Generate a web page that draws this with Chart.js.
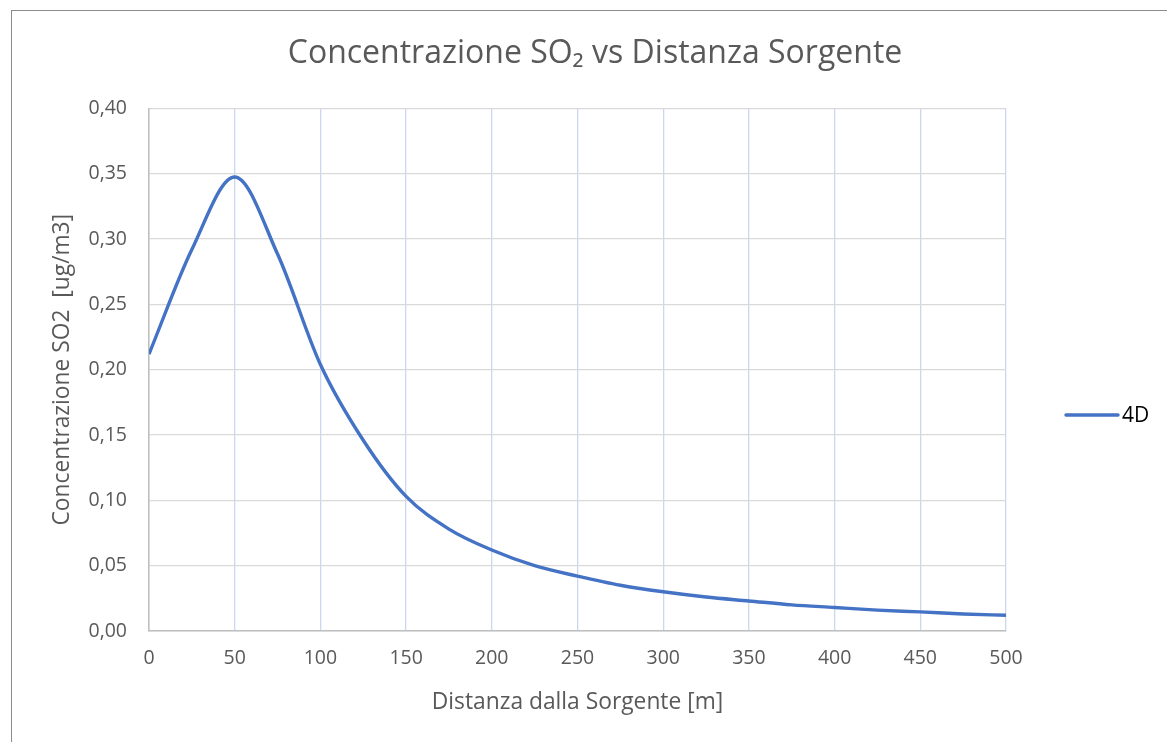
<!DOCTYPE html>
<html>
<head>
<meta charset="utf-8">
<script src="https://cdn.jsdelivr.net/npm/chart.js@4.4.1/dist/chart.umd.min.js"></script>
<style>
  html, body { margin: 0; padding: 0; background: #fff; }
  #wrap { position: relative; width: 1167px; height: 742px; overflow: hidden; }
  #frame { position: absolute; left: 11px; top: 10px; right: -4px; bottom: -4px; border: 1.5px solid #8c8c8c; pointer-events: none; }
</style>
</head>
<body>
<div id="wrap">
  <canvas id="chart" width="1167" height="742"></canvas>
  <div id="frame"></div>
</div>
<script>
// distance from source [m]
const distances = [0, 25, 50, 75, 100, 125, 150, 175, 200, 225, 250, 275, 300, 325, 350, 375, 400, 425, 450, 475, 500];
// SO2 concentration [ug/m3], series "4D"
const conc4D = [0.212, 0.292, 0.3475, 0.2885, 0.204, 0.146, 0.103, 0.078, 0.062, 0.050, 0.042, 0.035, 0.030, 0.026, 0.023, 0.020, 0.018, 0.016, 0.0146, 0.013, 0.012];
const yTicks = [0, 0.05, 0.10, 0.15, 0.20, 0.25, 0.30, 0.35, 0.40];
const xTicks = [0, 50, 100, 150, 200, 250, 300, 350, 400, 450, 500];

const FONT = 'Open Sans, Liberation Sans, sans-serif';
const GREY = '#595959';

// excel-like legend on the right, next to the plot
const sideLegend = {
    id: 'sideLegend',
    afterDraw(chart) {
        const ctx = chart.ctx;
        const ds = chart.data.datasets[0];
        ctx.save();
        ctx.strokeStyle = ds.borderColor;
        ctx.lineWidth = ds.borderWidth;
        ctx.lineCap = 'round';
        ctx.beginPath();
        ctx.moveTo(1066, 415);
        ctx.lineTo(1118, 415);
        ctx.stroke();
        ctx.fillStyle = '#000';
        ctx.font = '21px ' + FONT;
        ctx.textBaseline = 'middle';
        ctx.fillText(ds.label, 1122, 416);
        ctx.restore();
    }
};

const ctx = document.getElementById('chart').getContext('2d');
new Chart(ctx, {
    type: 'line',
    data: {
        datasets: [{
            label: '4D',
            data: distances.map((d, i) => ({ x: d, y: conc4D[i] })),
            borderColor: '#4472C4',
            borderWidth: 3.4,
            pointRadius: 0,
            cubicInterpolationMode: 'monotone',
            fill: false
        }]
    },
    options: {
        responsive: false,
        animation: false,
        layout: { padding: { left: 23, right: 0, top: 3, bottom: 0 } },
        plugins: {
            legend: { display: false },
            tooltip: { enabled: false },
            title: {
                display: true,
                text: 'Concentrazione SO\u2082 vs Distanza Sorgente',
                color: GREY,
                font: { family: FONT, size: 32, weight: 'normal' },
                padding: { top: 32, bottom: 35 }
            }
        },
        scales: {
            x: {
                type: 'linear',
                min: 0,
                max: 500,
                afterBuildTicks: (s) => { s.ticks = xTicks.map(v => ({ value: v })); },
                afterFit: (s) => { s.height = 111; },
                grid: { color: '#c9d7ef', lineWidth: 1.3, drawTicks: false },
                border: { color: '#bfbfbf', width: 1.5 },
                ticks: { color: GREY, font: { family: FONT, size: 19.5 }, padding: 16, maxRotation: 0 },
                title: {
                    display: true,
                    text: 'Distanza dalla Sorgente [m]',
                    color: GREY,
                    font: { family: FONT, size: 22.8 },
                    padding: { top: 0, bottom: 26 }
                }
            },
            y: {
                min: 0,
                max: 0.4,
                afterBuildTicks: (s) => { s.ticks = yTicks.map(v => ({ value: v })); },
                afterFit: (s) => { s.width = 126; },
                grid: { color: '#d9d9d9', lineWidth: 1.3, drawTicks: false },
                border: { color: '#bfbfbf', width: 1.5 },
                ticks: {
                    color: GREY,
                    font: { family: FONT, size: 19.5 },
                    padding: 22,
                    callback: (v) => v.toFixed(2).replace('.', ',')
                },
                title: {
                    display: true,
                    text: 'Concentrazione SO2  [ug/m3]',
                    color: GREY,
                    font: { family: FONT, size: 22.8 },
                    padding: { top: 26, bottom: 0 }
                }
            },
            // empty right-hand axis: only keeps room for the legend
            yRight: {
                position: 'right',
                min: 0,
                max: 0.4,
                afterFit: (s) => { s.width = 161; },
                grid: { display: false },
                border: { display: false },
                ticks: { display: false }
            }
        }
    },
    plugins: [sideLegend]
});
</script>
</body>
</html>
